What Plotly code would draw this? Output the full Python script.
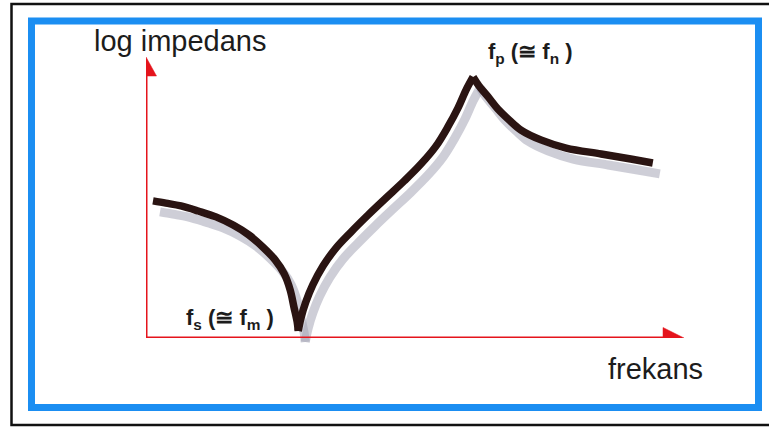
import plotly.graph_objects as go

W, H = 769, 430

# Data (frequency and log impedance, arbitrary units 0..10)
freq = [0.13, 0.37, 0.65, 0.97, 1.30, 1.62, 1.91, 2.17, 2.40, 2.57, 2.68, 2.75, 2.81, 2.83,
        2.88, 2.97, 3.10, 3.29, 3.53, 3.81, 4.13, 4.46, 4.80, 5.11, 5.39, 5.61, 5.80, 5.95, 6.08,
        6.19, 6.36, 6.54, 6.75, 6.97, 7.34, 7.81, 8.46, 9.01, 9.42]
log_imp = [4.88, 4.80, 4.70, 4.52, 4.31, 4.02, 3.67, 3.24, 2.78, 2.28, 1.71, 1.10, 0.57, 0.25,
           0.71, 1.28, 1.89, 2.56, 3.20, 3.77, 4.38, 4.98, 5.59, 6.19, 6.83, 7.51, 8.19, 8.83, 9.29,
           8.97, 8.58, 8.15, 7.76, 7.40, 7.05, 6.76, 6.55, 6.37, 6.23]

y_label = "log impedans"
x_label = "frekans"
fs_label = "f<sub>s</sub> (≅ f<sub>m</sub> )"
fp_label = "f<sub>p</sub> (≅ f<sub>n</sub> )"


def px(x):
    return x / W


def py(y):
    return 1 - y / H


# plot area in pixels
L, R, B, T = 146, 684, 338, 57
SDX, SDY = 7, 11  # shadow offset

# split the curve at the series resonance (minimum) and parallel resonance (maximum)
i_min = log_imp.index(min(log_imp))
i_max = log_imp.index(max(log_imp))
segments = [(0, i_min), (i_min, i_max), (i_max, len(freq) - 1)]

fig = go.Figure()

for a, b in segments:
    fig.add_trace(go.Scatter(x=freq[a:b + 1], y=log_imp[a:b + 1], mode="lines",
                             line=dict(color="rgba(165,165,182,0.55)", width=9,
                                       shape="spline", smoothing=1.0),
                             xaxis="x", yaxis="y", hoverinfo="skip", showlegend=False))
for a, b in segments:
    fig.add_trace(go.Scatter(x=freq[a:b + 1], y=log_imp[a:b + 1], mode="lines",
                             line=dict(color="#2a1412", width=7.5, shape="spline", smoothing=1.0),
                             xaxis="x2", yaxis="y2", hoverinfo="skip", showlegend=False))

hidden = dict(showgrid=False, zeroline=False, showticklabels=False, showline=False,
              ticks="", range=[0, 10], fixedrange=True)

fig.update_layout(
    width=W, height=H,
    margin=dict(l=0, r=0, t=0, b=0),
    paper_bgcolor="white", plot_bgcolor="rgba(0,0,0,0)",
    xaxis=dict(domain=[px(L + SDX), px(R + SDX)], anchor="y", **hidden),
    yaxis=dict(domain=[py(B + SDY), py(T + SDY)], anchor="x", **hidden),
    xaxis2=dict(domain=[px(L), px(R)], anchor="y2", **hidden),
    yaxis2=dict(domain=[py(B), py(T)], anchor="x2", **hidden),
)

ux = (R - L) / 10.0  # px per x unit
uy = (B - T) / 10.0  # px per y unit

red = "#e5141c"
shapes = []
# outer black frame
shapes.append(dict(type="rect", xref="paper", yref="paper",
                   x0=px(11.5), x1=px(775), y0=py(425), y1=py(4),
                   line=dict(color="#111111", width=2.5), fillcolor="rgba(0,0,0,0)", layer="below"))
# blue frame
shapes.append(dict(type="rect", xref="paper", yref="paper",
                   x0=px(31.5), x1=px(758.5), y0=py(407.5), y1=py(21),
                   line=dict(color="#1b8ef2", width=7), fillcolor="rgba(0,0,0,0)", layer="below"))
# horizontal axis yellow underline
shapes.append(dict(type="line", xref="x2", yref="y2", x0=0, x1=(663 - L) / ux,
                   y0=-2.2 / uy, y1=-2.2 / uy, line=dict(color="#f2e200", width=1.6), layer="below"))
# horizontal axis
shapes.append(dict(type="line", xref="x2", yref="y2", x0=-1.5 / ux, x1=(665 - L) / ux,
                   y0=0, y1=0, line=dict(color=red, width=3), layer="below"))
shapes.append(dict(type="path", xref="x2", yref="y2",
                   path=f"M {(663 - L) / ux},{-10.5 / uy} L {(663 - L) / ux},{10.5 / uy} L 10,0 Z",
                   fillcolor=red, line=dict(color=red, width=0.5), layer="below"))
# vertical axis
shapes.append(dict(type="line", xref="x2", yref="y2", x0=0, x1=0,
                   y0=-1.5 / uy, y1=(B - 74) / uy, line=dict(color=red, width=3), layer="below"))
shapes.append(dict(type="path", xref="x2", yref="y2",
                   path=f"M {-10.5 / ux},{(B - 76) / uy} L {10.5 / ux},{(B - 76) / uy} L 0,10 Z",
                   fillcolor=red, line=dict(color=red, width=0.5), layer="below"))
fig.update_layout(shapes=shapes)

font_reg = dict(family="Liberation Sans, Arial, sans-serif", size=29, color="#1c1c1c")
font_bold = dict(family="Liberation Sans, Arial, sans-serif", size=22, color="#1c1c1c")

fig.add_annotation(text=y_label, xref="paper", yref="paper", x=px(180), y=py(41),
                   xanchor="center", yanchor="middle", showarrow=False, font=font_reg)
fig.add_annotation(text=x_label, xref="paper", yref="paper", x=px(655), y=py(369),
                   xanchor="center", yanchor="middle", showarrow=False, font=font_reg)
fig.add_annotation(text="<b>" + fp_label + "</b>", xref="paper", yref="paper", x=px(486), y=py(53),
                   xanchor="left", yanchor="middle", showarrow=False, font=font_bold)
fig.add_annotation(text="<b>" + fs_label + "</b>", xref="paper", yref="paper", x=px(184), y=py(319),
                   xanchor="left", yanchor="middle", showarrow=False, font=font_bold)

fig.write_html("out.html", config={"displayModeBar": False},
               post_script="document.body.style.margin='0';document.body.style.overflow='hidden';")
